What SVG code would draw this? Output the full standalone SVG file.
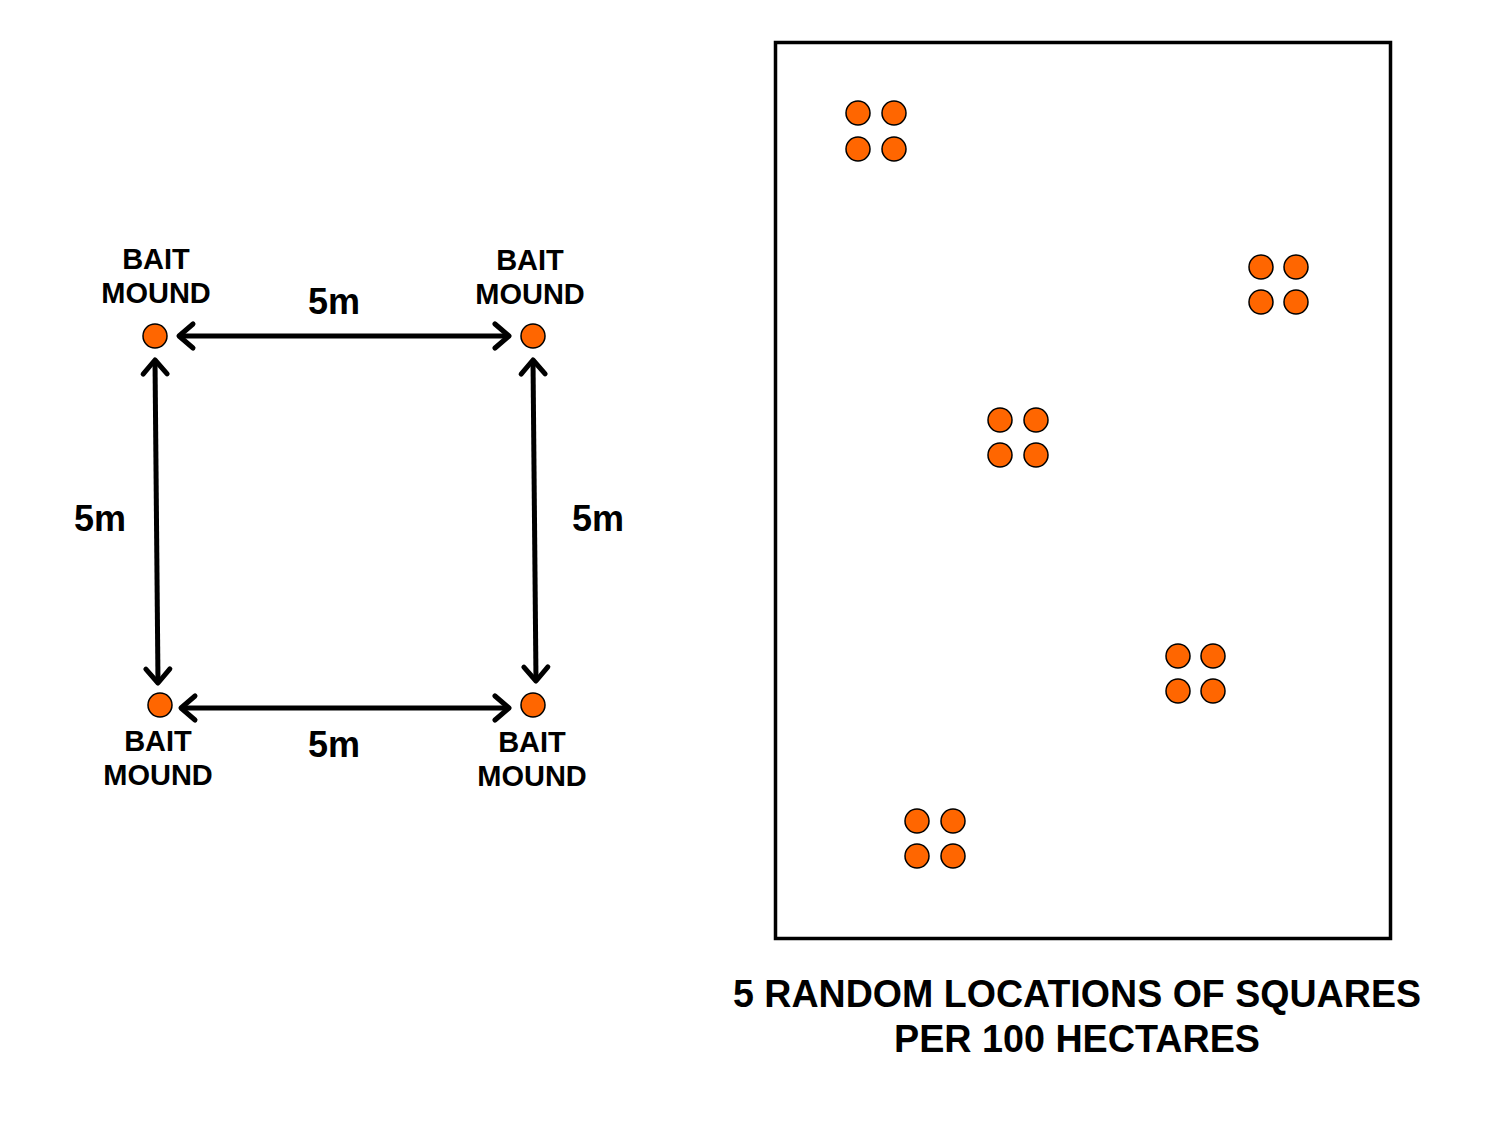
<svg xmlns="http://www.w3.org/2000/svg" width="1496" height="1123" viewBox="0 0 1496 1123">
<style>
.dot{fill:#ff6600;stroke:#000;stroke-width:1.5}
.lbl{font-family:"Liberation Sans",Arial,sans-serif;font-weight:bold;font-size:29px;text-anchor:middle;fill:#000}
.dim{font-family:"Liberation Sans",Arial,sans-serif;font-weight:bold;font-size:36px;text-anchor:middle;fill:#000}
.cap{font-family:"Liberation Sans",Arial,sans-serif;font-weight:bold;font-size:38px;text-anchor:middle;fill:#000}
.arr{stroke:#000;stroke-width:5;fill:none;marker-start:url(#ah);marker-end:url(#ah)}
</style>
<defs>
<marker id="ah" markerUnits="userSpaceOnUse" viewBox="-20 -15 24 30" refX="0" refY="0" markerWidth="24" markerHeight="30" orient="auto-start-reverse" overflow="visible">
<path d="M -14 -12 L 0 0 L -14 12" fill="none" stroke="#000" stroke-width="5" stroke-linecap="round" stroke-linejoin="round"/>
</marker>
</defs>
<rect width="1496" height="1123" fill="#fff"/>

<g id="connectors">
<line class="arr" x1="179" y1="336" x2="509" y2="336"/>
<line class="arr" x1="181" y1="708" x2="509" y2="708"/>
<line class="arr" x1="155" y1="360" x2="158" y2="683"/>
<line class="arr" x1="533" y1="360" x2="536" y2="681"/>
</g>

<g id="mound-tl">
<circle class="dot" cx="155" cy="336" r="12"/>
<text class="lbl" x="156" y="269">BAIT</text>
<text class="lbl" x="156" y="303">MOUND</text>
</g>
<g id="mound-tr">
<circle class="dot" cx="533" cy="336" r="12"/>
<text class="lbl" x="530" y="270">BAIT</text>
<text class="lbl" x="530" y="304">MOUND</text>
</g>
<g id="mound-bl">
<circle class="dot" cx="160" cy="705" r="12"/>
<text class="lbl" x="158" y="751">BAIT</text>
<text class="lbl" x="158" y="785">MOUND</text>
</g>
<g id="mound-br">
<circle class="dot" cx="533" cy="705" r="12"/>
<text class="lbl" x="532" y="752">BAIT</text>
<text class="lbl" x="532" y="786">MOUND</text>
</g>

<g id="dims">
<text class="dim" x="334" y="314">5m</text>
<text class="dim" x="100" y="531">5m</text>
<text class="dim" x="598" y="531">5m</text>
<text class="dim" x="334" y="757">5m</text>
</g>

<g id="area">
<rect x="775.5" y="42.5" width="615" height="896" fill="none" stroke="#000" stroke-width="3.5"/>
</g>

<g id="square-1">
<circle class="dot" cx="858" cy="113" r="12"/>
<circle class="dot" cx="894" cy="113" r="12"/>
<circle class="dot" cx="858" cy="149" r="12"/>
<circle class="dot" cx="894" cy="149" r="12"/>
</g>
<g id="square-2">
<circle class="dot" cx="1261" cy="267" r="12"/>
<circle class="dot" cx="1296" cy="267" r="12"/>
<circle class="dot" cx="1261" cy="302" r="12"/>
<circle class="dot" cx="1296" cy="302" r="12"/>
</g>
<g id="square-3">
<circle class="dot" cx="1000" cy="420" r="12"/>
<circle class="dot" cx="1036" cy="420" r="12"/>
<circle class="dot" cx="1000" cy="455" r="12"/>
<circle class="dot" cx="1036" cy="455" r="12"/>
</g>
<g id="square-4">
<circle class="dot" cx="1178" cy="656" r="12"/>
<circle class="dot" cx="1213" cy="656" r="12"/>
<circle class="dot" cx="1178" cy="691" r="12"/>
<circle class="dot" cx="1213" cy="691" r="12"/>
</g>
<g id="square-5">
<circle class="dot" cx="917" cy="821" r="12"/>
<circle class="dot" cx="953" cy="821" r="12"/>
<circle class="dot" cx="917" cy="856" r="12"/>
<circle class="dot" cx="953" cy="856" r="12"/>
</g>

<g id="caption">
<text class="cap" x="1077" y="1007" textLength="688" lengthAdjust="spacingAndGlyphs">5 RANDOM LOCATIONS OF SQUARES</text>
<text class="cap" x="1077" y="1052" textLength="366" lengthAdjust="spacingAndGlyphs">PER 100 HECTARES</text>
</g>
</svg>
